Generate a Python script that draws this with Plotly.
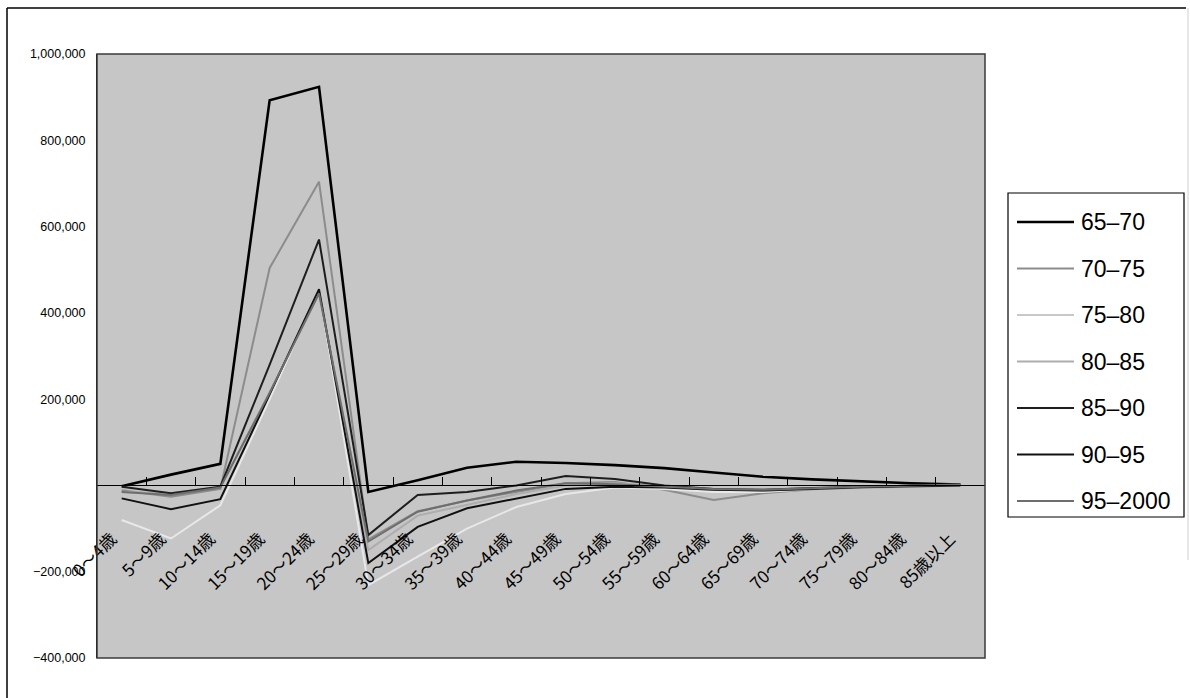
import plotly.graph_objects as go

# Age groups on the category axis
age_groups = ["0～4歳", "5～9歳", "10～14歳", "15～19歳", "20～24歳", "25～29歳",
              "30～34歳", "35～39歳", "40～44歳", "45～49歳", "50～54歳", "55～59歳",
              "60～64歳", "65～69歳", "70～74歳", "75～79歳", "80～84歳", "85歳以上"]

# Net change per period, in persons
s_65_70 = [-2000, 25000, 50000, 893000, 924000, -15000, 12000, 41000, 55000,
           52000, 47000, 40000, 30000, 20000, 14000, 9000, 5000, 2000]
s_70_75 = [-11000, -26000, -8000, 504000, 704000, -125000, -60000, -35000, -15000,
           5000, 8000, -10000, -34000, -18000, -9000, -5000, -3000, 0]
s_75_80 = [-80000, -123000, -46000, 200000, 455000, -231000, -165000, -100000, -50000,
           -20000, -5000, -8000, -15000, -15000, -8000, -4000, -2000, 0]
s_80_85 = [-15000, -18000, -3000, 215000, 450000, -150000, -70000, -45000, -20000,
           0, 5000, -2000, -8000, -12000, -8000, -4000, -2000, 0]
s_85_90 = [-3000, -18000, -3000, 280000, 570000, -115000, -22000, -15000, 0,
           22000, 15000, 0, -8000, -10000, -6000, -3000, -1000, 2000]
s_90_95 = [-30000, -55000, -32000, 210000, 455000, -180000, -96000, -53000, -30000,
           -8000, -3000, -5000, -10000, -12000, -8000, -4000, -2000, 0]
s_95_00 = [-15000, -22000, -5000, 215000, 445000, -130000, -61000, -35000, -12000,
           5000, 3000, -3000, -8000, -10000, -6000, -3000, -1000, 2000]

series_names = ["65–70", "70–75", "75–80", "80–85", "85–90", "90–95", "95–2000"]
series_values = [s_65_70, s_70_75, s_75_80, s_80_85, s_85_90, s_90_95, s_95_00]
series_colors = ["#000000", "#8c8c8c", "#e8e8e8", "#adadad", "#1e1e1e", "#111111", "#6e6e6e"]
series_widths = [2.6, 2, 2, 2, 2, 2, 2]

y_ticks = [-400000, -200000, 200000, 400000, 600000, 800000, 1000000]
y_labels = ["−400,000", "−200,000", "200,000", "400,000", "600,000", "800,000", "1,000,000"]
grid_values = [200000, 400000, 600000, 800000]
y_min, y_max = -400000, 1000000

W, H = 1190, 698
L, R, T, B = 97, 985, 54, 658  # plot area in pixels


def px(x):
    return (x - L) / (R - L)


def py(y):
    return (B - y) / (B - T)


fig = go.Figure()
for name, vals, col, w in zip(series_names, series_values, series_colors, series_widths):
    fig.add_trace(go.Scatter(x=age_groups, y=vals, name=name, mode="lines",
                             line=dict(color=col, width=w), showlegend=False))

zero_pos = (0 - y_min) / (y_max - y_min)

fig.update_layout(
    width=W, height=H,
    margin=dict(l=L, r=W - R, t=T, b=H - B),
    paper_bgcolor="white",
    plot_bgcolor="#c6c6c6",
    font=dict(family="Liberation Sans, Arial, sans-serif", color="black"),
    xaxis=dict(
        type="category", anchor="free", position=zero_pos,
        range=[-0.5, len(age_groups) - 0.5],
        tickson="boundaries", ticks="inside", ticklen=8, tickcolor="black", tickwidth=1,
        showline=True, linecolor="black", linewidth=1,
        showgrid=False, tickangle=-45,
        tickfont=dict(family="Noto Sans CJK JP", size=17, color="black"),
        ticklabelstandoff=36, ticklabelshift=-10,
    ),
    yaxis=dict(
        range=[y_min, y_max], tickvals=y_ticks, ticktext=y_labels,
        showgrid=False, zeroline=False,
        showline=True, linecolor="black", linewidth=1,
        ticks="outside", ticklen=8, tickcolor="white",
        tickfont=dict(family="Liberation Sans, Arial", size=12.5, color="black"),
    ),
    # Horizontal gridlines above the zero line only
    yaxis2=dict(
        range=[y_min, y_max], overlaying="y", tickvals=grid_values,
        showticklabels=False, showgrid=True, gridcolor="#1a1a1a", gridwidth=1,
        zeroline=False, showline=False, ticks="",
    ),
)

# Plot-area frame and outer chart border
fig.add_shape(type="rect", xref="paper", yref="paper", x0=0, y0=0, x1=1, y1=1,
              line=dict(color="#3a3a3a", width=1.5), layer="above")
fig.add_shape(type="line", xref="paper", yref="paper", x0=px(7), y0=py(8), x1=px(7), y1=py(698),
              line=dict(color="black", width=1.5))
fig.add_shape(type="line", xref="paper", yref="paper", x0=px(7), y0=py(8), x1=px(1186), y1=py(8),
              line=dict(color="black", width=1.5))
fig.add_shape(type="line", xref="paper", yref="paper", x0=px(1188), y0=py(8), x1=px(1188), y1=py(560),
              line=dict(color="#d0d0d0", width=1))

# Legend box with long line samples
lg_x0, lg_x1, lg_y0, lg_y1 = 1008, 1184, 193, 517
fig.add_shape(type="rect", xref="paper", yref="paper",
              x0=px(lg_x0), x1=px(lg_x1), y0=py(lg_y1), y1=py(lg_y0),
              line=dict(color="black", width=1.2), fillcolor="white")
row0, row_step = 222, 46.5
for i, (name, col, w) in enumerate(zip(series_names, series_colors, series_widths)):
    yy = row0 + i * row_step
    fig.add_shape(type="line", xref="paper", yref="paper",
                  x0=px(1017), x1=px(1074), y0=py(yy), y1=py(yy),
                  line=dict(color=col if col != "#e8e8e8" else "#c8c8c8", width=w))
    fig.add_annotation(xref="paper", yref="paper", x=px(1079), y=py(yy), text=name,
                       showarrow=False, xanchor="left", yanchor="middle",
                       font=dict(family="Liberation Sans, Arial", size=23, color="black"))

fig.write_html("out.html")
